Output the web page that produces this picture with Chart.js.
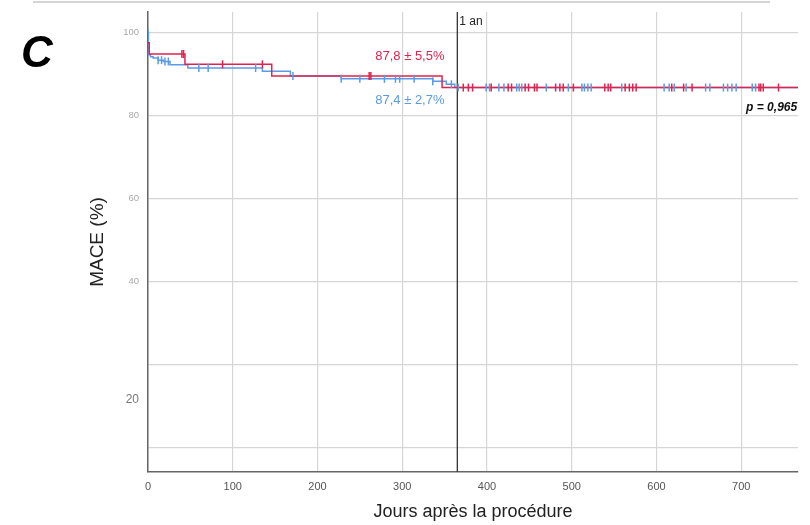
<!DOCTYPE html>
<html>
<head>
<meta charset="utf-8">
<script src="https://cdn.jsdelivr.net/npm/chart.js@4.4.1/dist/chart.umd.min.js"></script>
<style>
  html, body { margin: 0; padding: 0; background: #fff; }
  #wrap { width: 810px; height: 525px; position: relative; }
</style>
</head>
<body>
<div id="wrap"><canvas id="c" width="810" height="525"></canvas></div>
<script>
// ---- Data ----
// Kaplan-Meier step curves: [day, survival %] at each event
const redCurve = [[0, 97.6], [1.5, 94.9], [43.6, 92.4], [146, 89.6], [347, 86.8], [767, 86.8]];
const blueCurve = [[0, 100], [0.5, 94.7], [3, 94.2], [6, 93.9], [12, 93.4], [18, 93.1], [26, 92.3],
                   [47, 91.5], [135, 90.7], [168, 89.6], [228, 88.9], [336, 88.3], [352, 87.6],
                   [362, 86.8], [767, 86.8]];
// Censored observations (days)
const redCensored = [40, 42, 88, 135, 261, 263,
  372, 378, 383, 405, 425, 429, 445, 449, 456, 459, 481, 486, 490, 502,
  539, 543, 546, 563, 568, 572, 576, 618, 632, 642, 721, 723, 726, 744];
const blueCensored = [0, 12, 16, 20, 24, 60, 71, 127, 171, 228, 250, 279, 292, 297, 314, 336, 358, 366,
  399, 403, 414, 420, 435, 438, 441, 470, 496, 512, 515, 519, 523, 559, 609, 615, 621, 635,
  658, 663, 679, 684, 689, 694, 713, 717];
// Axis ticks
const xTickValues = [0, 100, 200, 300, 400, 500, 600, 700];
const yGridValues = [0, 20, 40, 60, 80, 100];
const yLabeledValues = [40, 60, 80, 100];
const yStrayLabel = { value: 11.6, text: '20' };
const oneYear = 365;
const annotRed = '87,8 ± 5,5%';
const annotBlue = '87,4 ± 2,7%';
const pText = 'p = 0,965';

const RED = '#e0234e';
const BLUE = '#5b9be6';

function toPoints(curve) { return curve.map(p => ({ x: p[0], y: p[1] })); }
function stepValue(curve, day) {
  let v = curve[0][1];
  for (const p of curve) { if (p[0] <= day) v = p[1]; }
  return v;
}
function censorPoints(days, curve) { return days.map(d => ({ x: d, y: stepValue(curve, d) })); }

const decor = {
  id: 'decor',
  beforeDraw(chart) {
    const ctx = chart.ctx;
    ctx.save();
    ctx.fillStyle = '#fff';
    ctx.fillRect(0, 0, chart.width, chart.height);
    ctx.strokeStyle = '#d4d4d4';
    ctx.lineWidth = 2;
    ctx.beginPath(); ctx.moveTo(33, 2); ctx.lineTo(770, 2); ctx.stroke();
    ctx.fillStyle = '#000';
    ctx.font = 'italic bold 44px "Liberation Sans", Arial, sans-serif';
    ctx.textAlign = 'center'; ctx.textBaseline = 'middle';
    ctx.fillText('C', 37, 55);
    ctx.restore();
  },
  beforeDatasetsDraw(chart) {
    const { ctx, chartArea, scales } = chart;
    const x = scales.x.getPixelForValue(oneYear);
    ctx.save();
    ctx.strokeStyle = '#333';
    ctx.lineWidth = 1.3;
    ctx.beginPath(); ctx.moveTo(x, chartArea.top); ctx.lineTo(x, chartArea.bottom); ctx.stroke();
    ctx.fillStyle = '#222';
    ctx.font = '12px "Liberation Sans", Arial, sans-serif';
    ctx.textAlign = 'left'; ctx.textBaseline = 'middle';
    ctx.fillText('1 an', x + 2, chartArea.top + 10);
    ctx.restore();
  },
  afterDatasetsDraw(chart) {
    const { ctx, scales } = chart;
    ctx.save();
    ctx.font = '13px "Liberation Sans", Arial, sans-serif';
    ctx.textAlign = 'center'; ctx.textBaseline = 'middle';
    ctx.fillStyle = RED;
    ctx.fillText(annotRed, scales.x.getPixelForValue(309), scales.y.getPixelForValue(94.2));
    ctx.fillStyle = BLUE;
    ctx.fillText(annotBlue, scales.x.getPixelForValue(309), scales.y.getPixelForValue(83.6));
    ctx.fillStyle = '#111';
    ctx.font = 'italic bold 12px "Liberation Sans", Arial, sans-serif';
    ctx.textAlign = 'right';
    ctx.fillText(pText, scales.x.getPixelForValue(766), scales.y.getPixelForValue(82));
    ctx.restore();
  }
};

new Chart(document.getElementById('c'), {
  type: 'line',
  data: {
    datasets: [
      { data: toPoints(blueCurve), borderColor: BLUE, borderWidth: 1.5, stepped: 'before', pointRadius: 0, fill: false, order: 4 },
      { data: toPoints(redCurve), borderColor: RED, borderWidth: 1.5, stepped: 'before', pointRadius: 0, fill: false, order: 3 },
      { data: censorPoints(blueCensored, blueCurve), showLine: false, pointStyle: 'line', rotation: 90,
        pointRadius: 4, pointBorderColor: BLUE, pointBorderWidth: 1.5, borderColor: BLUE, order: 2 },
      { data: censorPoints(redCensored, redCurve), showLine: false, pointStyle: 'line', rotation: 90,
        pointRadius: 4, pointBorderColor: RED, pointBorderWidth: 1.5, borderColor: RED, order: 1 }
    ]
  },
  options: {
    responsive: false,
    animation: false,
    layout: { padding: { left: 86, top: 12, right: 12, bottom: 0 } },
    plugins: { legend: { display: false }, tooltip: { enabled: false } },
    scales: {
      x: {
        type: 'linear', min: 0, max: 767,
        afterBuildTicks(scale) { scale.ticks = xTickValues.map(v => ({ value: v })); },
        afterFit(scale) { scale.height = 53; scale.paddingLeft = 0; scale.paddingRight = 0; },
        grid: { color: '#d6d6d6', lineWidth: 1.2, drawTicks: false },
        border: { color: '#666', width: 1.5 },
        ticks: { padding: 8, color: '#555', font: { family: '"Liberation Sans Narrow", "Liberation Sans", Arial', size: 11 },
                 callback: v => String(v), maxRotation: 0 },
        title: { display: true, text: 'Jours après la procédure', color: '#222',
                 font: { family: '"Liberation Sans", Arial', size: 18 }, padding: { top: 0, bottom: 2 } }
      },
      y: {
        type: 'linear', min: -5.8, max: 105,
        afterBuildTicks(scale) {
          scale.ticks = yGridValues.concat([yStrayLabel.value]).sort((a, b) => a - b).map(v => ({ value: v }));
        },
        afterFit(scale) { scale.width = 62; scale.paddingTop = 0; scale.paddingBottom = 0; },
        grid: {
          drawTicks: false, lineWidth: 1.2,
          color: ctx => (ctx.tick && ctx.tick.value === yStrayLabel.value) ? 'rgba(0,0,0,0)' : '#d6d6d6'
        },
        border: { color: '#666', width: 1.5 },
        ticks: {
          padding: 9,
          callback: v => v === yStrayLabel.value ? yStrayLabel.text : (yLabeledValues.includes(v) ? String(v) : ''),
          color: ctx => (ctx.tick && ctx.tick.value === yStrayLabel.value) ? '#777' : '#aaa',
          font: ctx => (ctx.tick && ctx.tick.value === yStrayLabel.value)
            ? { family: '"Liberation Sans", Arial', size: 12 }
            : { family: '"Liberation Sans", Arial', size: 9.5 }
        },
        title: { display: true, text: 'MACE (%)', color: '#222',
                 font: { family: '"Liberation Sans", Arial', size: 19 }, padding: 0 }
      }
    }
  },
  plugins: [decor]
});
</script>
</body>
</html>
